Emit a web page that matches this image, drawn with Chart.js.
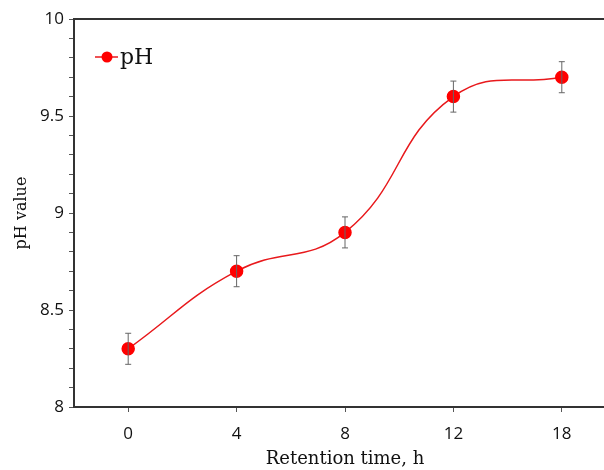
<!DOCTYPE html>
<html>
<head>
<meta charset="utf-8">
<script src="https://cdn.jsdelivr.net/npm/chart.js@4/dist/chart.umd.min.js"></script>
<style>
  html, body { margin: 0; padding: 0; background: #fff; overflow: hidden; }
  #wrap { width: 604px; height: 470px; overflow: hidden; }
</style>
</head>
<body>
<div id="wrap"><canvas id="chart" width="624" height="470"></canvas></div>
<script>
const categories = ['0', '4', '8', '12', '18'];
const phValues = [8.3, 8.7, 8.9, 9.6, 9.7];
const phErrors = [0.08, 0.08, 0.08, 0.08, 0.08];

const axisColor = '#333333';

// error bars + top frame line + legend inside the plot
const extrasPlugin = {
    id: 'extras',
    afterDatasetsDraw(chart) {
        const ctx = chart.ctx;
        const x = chart.scales.x, y = chart.scales.y;
        ctx.save();
        ctx.strokeStyle = '#666666';
        ctx.lineWidth = 1;
        phValues.forEach((v, i) => {
            const px = x.getPixelForValue(i);
            const top = y.getPixelForValue(v + phErrors[i]);
            const bot = y.getPixelForValue(v - phErrors[i]);
            ctx.beginPath();
            ctx.moveTo(px, top); ctx.lineTo(px, bot);
            ctx.moveTo(px - 3, top); ctx.lineTo(px + 3, top);
            ctx.moveTo(px - 3, bot); ctx.lineTo(px + 3, bot);
            ctx.stroke();
        });
        ctx.restore();
    },
    afterDraw(chart) {
        const ctx = chart.ctx;
        const a = chart.chartArea;
        ctx.save();
        ctx.strokeStyle = axisColor;
        ctx.lineWidth = 2;
        ctx.beginPath();
        ctx.moveTo(a.left, a.top);
        ctx.lineTo(a.right, a.top);
        ctx.lineTo(a.right, a.bottom);
        ctx.stroke();

        // legend
        const lx = 95, ly = 57;
        ctx.strokeStyle = '#e8191c';
        ctx.lineWidth = 1.5;
        ctx.beginPath();
        ctx.moveTo(lx, ly); ctx.lineTo(lx + 23, ly);
        ctx.stroke();
        ctx.fillStyle = '#ff0000';
        ctx.beginPath();
        ctx.arc(lx + 12, ly, 5.5, 0, Math.PI * 2);
        ctx.fill();
        ctx.fillStyle = '#111';
        ctx.font = '22px "DejaVu Serif", serif';
        ctx.textBaseline = 'middle';
        ctx.textAlign = 'left';
        ctx.fillText('pH', lx + 25, ly + 1);
        ctx.restore();
    }
};

new Chart(document.getElementById('chart'), {
    type: 'line',
    data: {
        labels: categories,
        datasets: [{
            label: 'pH',
            data: phValues,
            borderColor: '#e8191c',
            borderWidth: 1.5,
            tension: 0.45,
            pointRadius: 6,
            pointBackgroundColor: '#ff0000',
            pointBorderColor: '#ff0000',
            fill: false
        }]
    },
    options: {
        responsive: false,
        animation: false,
        layout: { padding: { top: 19, right: 8, left: 0, bottom: 0 } },
        plugins: {
            legend: { display: false },
            tooltip: { enabled: false }
        },
        scales: {
            x: {
                type: 'category',
                offset: true,
                grid: { drawOnChartArea: false, offset: false, tickLength: 5, color: '#555' },
                border: { display: true, color: axisColor, width: 2 },
                ticks: {
                    color: '#111',
                    font: { family: '"Open Sans", sans-serif', size: 17 },
                    padding: 12
                },
                title: {
                    display: true,
                    text: 'Retention time, h',
                    color: '#111',
                    font: { family: '"DejaVu Serif", serif', size: 18 },
                    padding: { top: 0, bottom: 0 }
                },
                afterFit(scale) { scale.height = 63; }
            },
            y: {
                min: 8,
                max: 10,
                grid: { drawOnChartArea: false, tickLength: 5, color: '#555' },
                border: { display: true, color: axisColor, width: 2 },
                ticks: {
                    stepSize: 0.1,
                    autoSkip: false,
                    color: '#111',
                    font: { family: '"Open Sans", sans-serif', size: 17 },
                    padding: 5,
                    callback: (v) => Math.abs(v * 2 - Math.round(v * 2)) < 1e-6 ? String(Math.round(v * 2) / 2) : ''
                },
                title: {
                    display: true,
                    text: 'pH value',
                    color: '#111',
                    font: { family: '"DejaVu Serif", serif', size: 16 },
                    padding: { top: 12, bottom: 0 }
                },
                afterFit(scale) { scale.width = 74; }
            }
        }
    },
    plugins: [extrasPlugin]
});
</script>
</body>
</html>
